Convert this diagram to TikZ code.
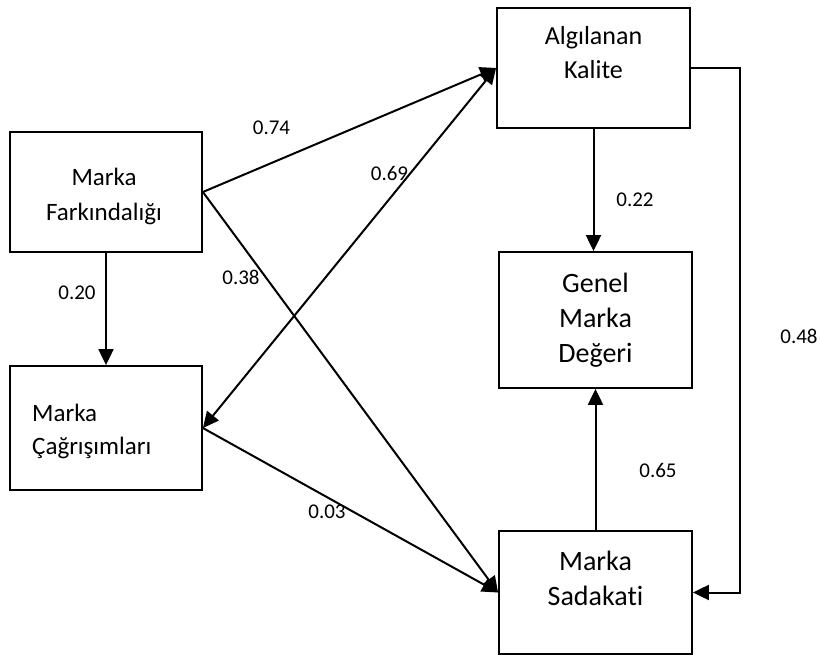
\documentclass[tikz,border=0pt]{standalone}
\usepackage{fontspec}
\setmainfont{Carlito}[Ligatures=NoCommon]
\usetikzlibrary{arrows.meta}
\begin{document}
\begin{tikzpicture}[x=1pt,y=-1pt,
  box/.style={draw,line width=1.8pt,minimum width=#1,inner sep=0pt},
  boxtext/.style={inner sep=0pt,align=center,font=\fontsize{25}{35}\selectfont},
  kaltext/.style={inner sep=0pt,align=center,font=\fontsize{26}{34}\selectfont},
  bigtext/.style={inner sep=0pt,align=center,font=\fontsize{28}{35}\selectfont},
  coef/.style={inner sep=0pt,font=\fontsize{21}{24}\selectfont},
  path/.style={line width=2pt,-{Triangle[length=16pt,width=15pt]}},
  twoway/.style={line width=2pt,{Triangle[length=16pt,width=15pt]}-{Triangle[length=16pt,width=15pt]}}]
  \useasboundingbox (0,0) rectangle (820,655);

  % construct boxes
  \node[box=192pt,minimum height=120pt] (fark) at (106,192) {};
  \node[box=192pt,minimum height=124pt] (cag)  at (106,428) {};
  \node[box=193pt,minimum height=120pt] (kal)  at (593.5,68) {};
  \node[box=193pt,minimum height=136pt] (gen)  at (595.5,320) {};
  \node[box=193pt,minimum height=123pt] (sad)  at (595.5,592.5) {};

  % box captions
  \node[boxtext] (farkT) at (104,196.5) {Marka\\Farkındalığı};
  \node[boxtext,align=left,anchor=west,font=\fontsize{25}{33}\selectfont] (cagT) at (32,431) {Marka\\Çağrışımları};
  \node[kaltext] (kalT) at (593.5,53) {Algılanan\\Kalite};
  \node[bigtext] (genT) at (595.5,320.5) {Genel\\Marka\\Değeri};
  \node[bigtext] (sadT) at (595.5,578) {Marka\\Sadakati};

  % structural paths
  \draw[path] (fark.east) -- (kal.west);
  \draw[path] (fark.east) -- (sad.west);
  \draw[twoway] (kal.west) -- (cag.east);
  \draw[path] (cag.east) -- (sad.west);
  \draw[path] (fark.south) -- (cag.north);
  \draw[path] (kal.south) -- (kal.south |- gen.north);
  \draw[path] (sad.north) -- (gen.south);
  \draw[path] (kal.east) -- ++(49,0) |- (sad.east);

  % path coefficients
  \node[coef] (c74) at (271.5,128) {0.74};
  \node[coef] (c69) at (389.5,173) {0.69};
  \node[coef] (c38) at (241,277) {0.38};
  \node[coef] (c20) at (77,293) {0.20};
  \node[coef] (c03) at (327,512) {0.03};
  \node[coef] (c22) at (635,199.5) {0.22};
  \node[coef] (c65) at (658,470) {0.65};
  \node[coef] (c48) at (799,336) {0.48};
\end{tikzpicture}
\end{document}
